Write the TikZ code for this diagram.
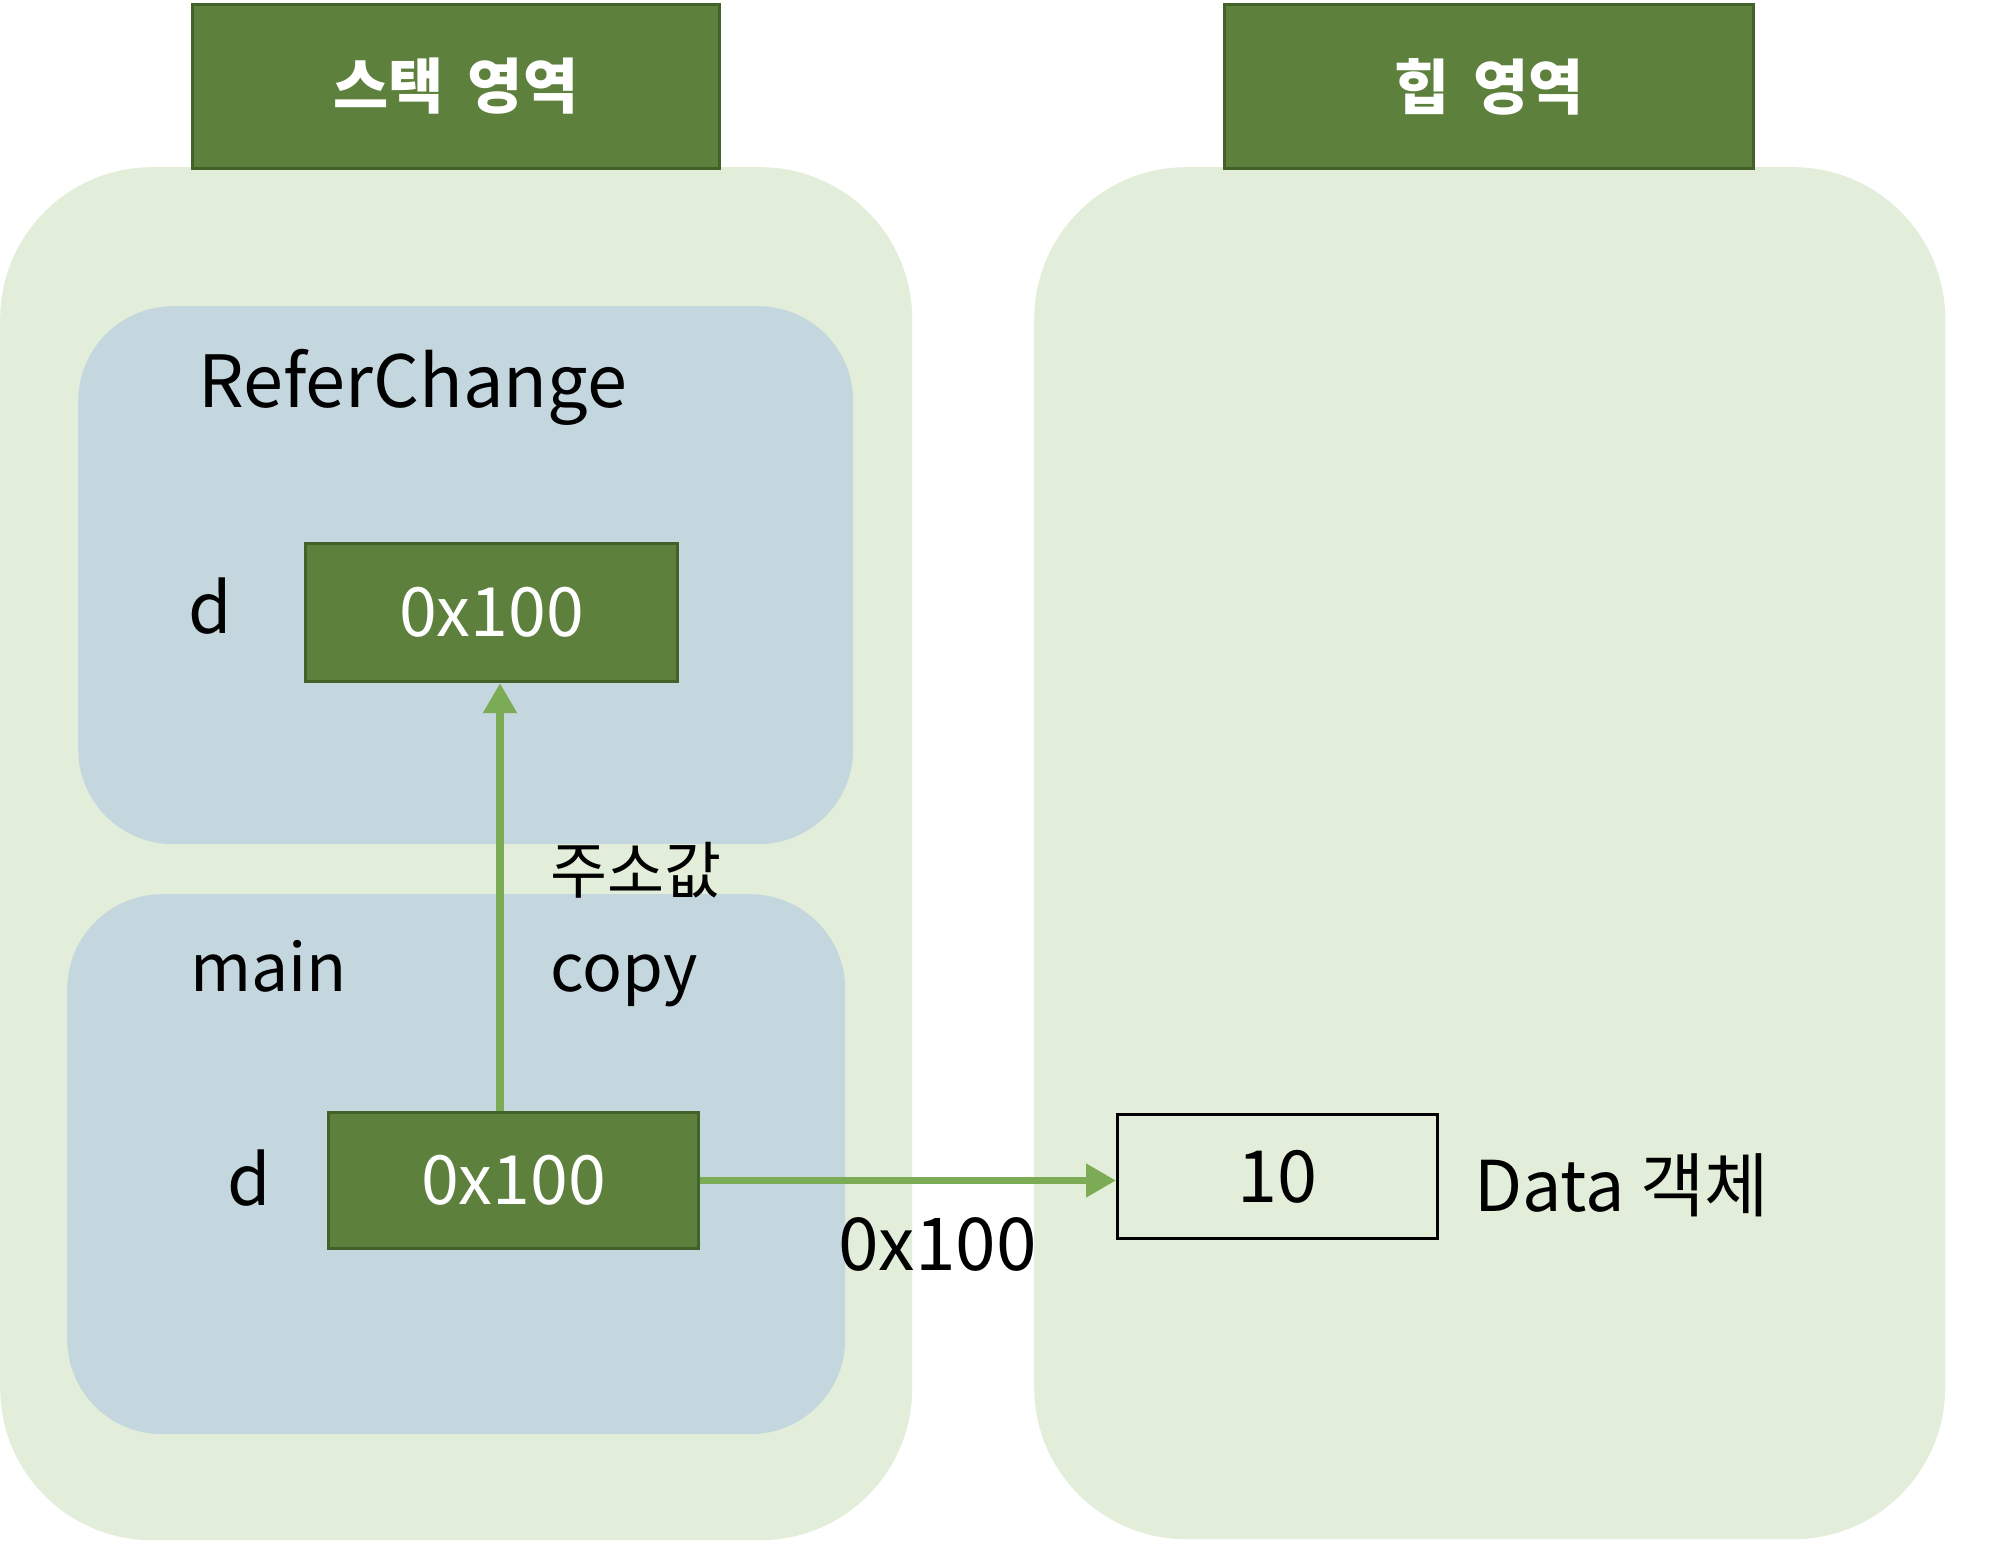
\documentclass[tikz,border=0pt]{standalone}
\usepackage{fontspec}
\setmainfont{Noto Sans CJK KR}
\usetikzlibrary{arrows.meta}
\definecolor{lightg}{HTML}{E2EED9}
\definecolor{blueg}{HTML}{C4D7DF}
\definecolor{darkg}{HTML}{5E803D}
\definecolor{borderg}{HTML}{42622A}
\definecolor{arrg}{HTML}{7BAB55}
\tikzset{
  outerbox/.style={fill=lightg, draw=none, rounded corners=152pt, anchor=north west, inner sep=0pt},
  innerbox/.style={fill=blueg, draw=none, rounded corners=95pt, anchor=north west, inner sep=0pt},
  hdrbox/.style={fill=darkg, draw=borderg, line width=3pt, anchor=north west, inner sep=0pt, text=white, font=\fontsize{60}{72}\selectfont\bfseries},
  valbox/.style={fill=darkg, draw=borderg, line width=3pt, anchor=north west, inner sep=0pt, text=white, font=\fontsize{68}{82}\selectfont},
  objbox/.style={fill=none, draw=black, line width=3pt, anchor=north west, inner sep=0pt, font=\fontsize{72}{86}\selectfont},
  lbl/.style={anchor=base west, inner sep=0pt},
  arr/.style={draw=arrg, line width=7.5pt, -{Triangle[length=30pt,width=32pt]}}
}
\begin{document}
\begin{tikzpicture}[x=1pt,y=-1pt]
\useasboundingbox (0,0) rectangle (2000,1544);
\fill[white] (0,0) rectangle (2000,1544);
% outer regions
\node[outerbox, minimum width=912pt, minimum height=1373pt] (stack) at (0,167) {};
\node[outerbox, minimum width=911pt, minimum height=1372pt] (heap) at (1034,167) {};
% inner frames
\node[innerbox, minimum width=775pt, minimum height=538pt] (refer) at (78,306) {};
\node[innerbox, minimum width=778pt, minimum height=540pt] (mainf) at (67,894) {};
% headers
\node[hdrbox, minimum width=527pt, minimum height=164pt] (hs) at (191,3) {스택\hspace{0.4em}영역};
\node[hdrbox, minimum width=529pt, minimum height=164pt] (hh) at (1223,3) {힙\hspace{0.4em}영역};
% value boxes
\node[valbox, minimum width=372pt, minimum height=138pt] (v1) at (304,542) {0x100};
\node[valbox, minimum width=370pt, minimum height=136pt] (v2) at (327,1111) {0x100};
\node[objbox, minimum width=320pt, minimum height=124pt] (obj) at (1116,1113) {10};
% arrows
\coordinate (ax) at (500,0);
\draw[arr] (v2.north -| ax) -- (v1.south -| ax);
\draw[arr] (v2.east) -- (v2.east -| obj.west);
% labels
\node[lbl, font=\fontsize{72}{86}\selectfont] (tref) at (198,407) {ReferChange};
\node[lbl, font=\fontsize{70}{84}\selectfont] (td1) at (188,633) {d};
\node[lbl, font=\fontsize{62}{74}\selectfont] (taddr) at (550,893) {주소값};
\node[lbl, font=\fontsize{66}{80}\selectfont] (tmain) at (190,991) {main};
\node[lbl, font=\fontsize{66}{80}\selectfont] (tcopy) at (550,991) {copy};
\node[lbl, font=\fontsize{70}{84}\selectfont] (td2) at (227,1205) {d};
\node[lbl, font=\fontsize{73}{88}\selectfont] (taddr2) at (838,1270) {0x100};
\node[lbl, font=\fontsize{70}{84}\selectfont] (tdata) at (1474,1211) {Data 객체};
\end{tikzpicture}
\end{document}
